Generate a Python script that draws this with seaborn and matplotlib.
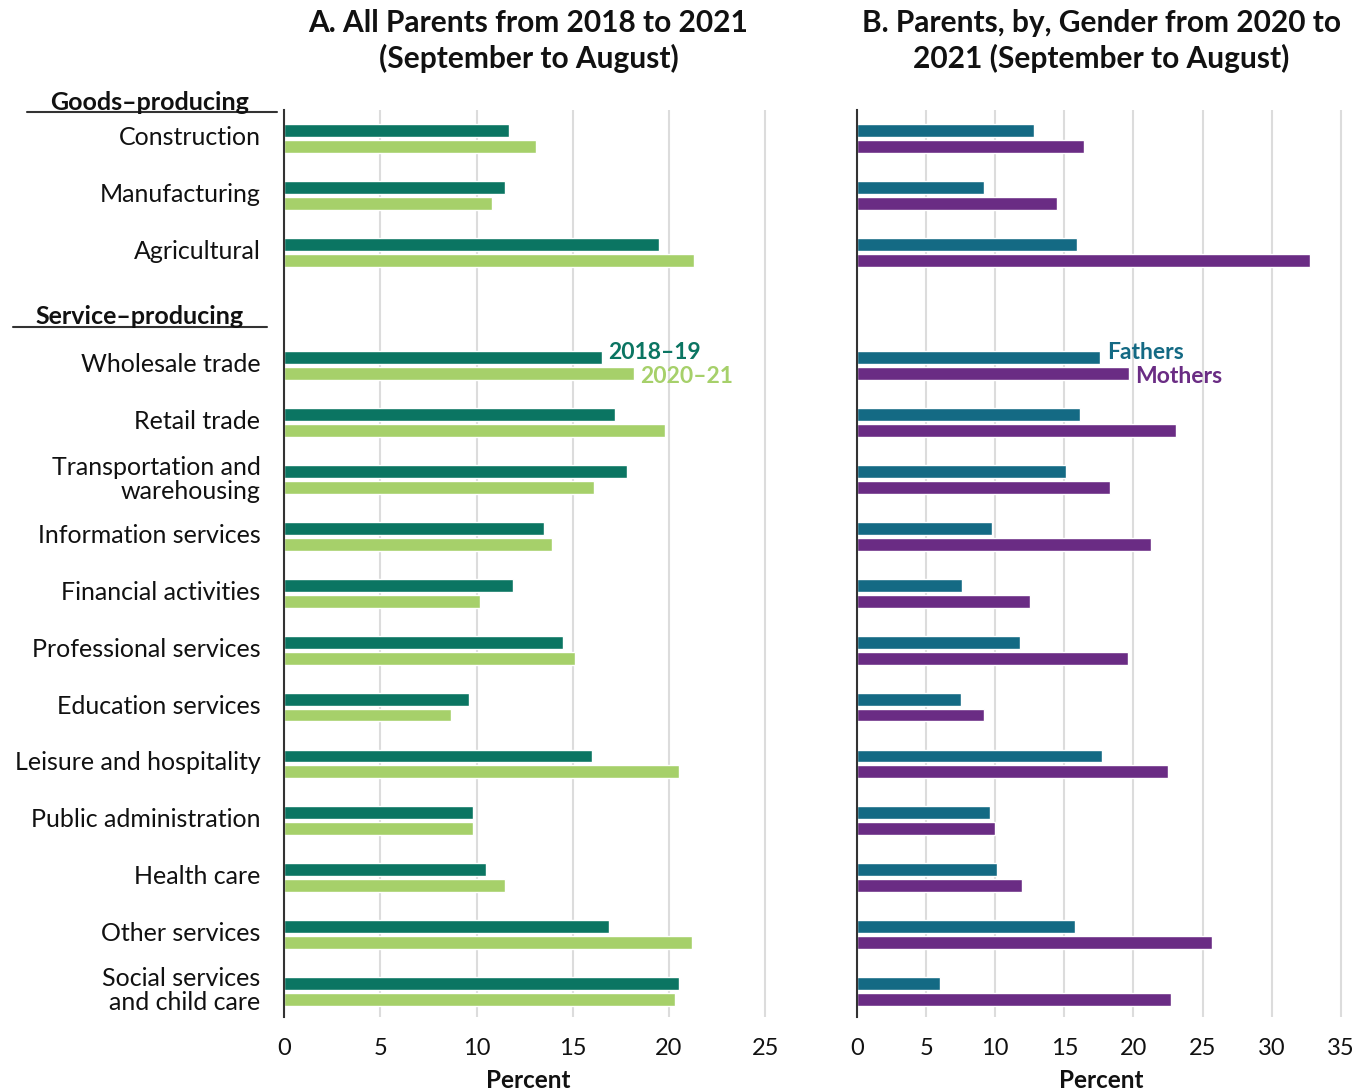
import matplotlib
matplotlib.use("Agg")
import matplotlib.pyplot as plt
import matplotlib.transforms as mtransforms
import seaborn as sns
import pandas as pd
from matplotlib.lines import Line2D

# ---- data (percent) ----
goods = ["Construction", "Manufacturing", "Agricultural"]
services = ["Wholesale trade", "Retail trade", "Transportation and\nwarehousing",
            "Information services", "Financial activities", "Professional services",
            "Education services", "Leisure and hospitality", "Public administration",
            "Health care", "Other services", "Social services\nand child care"]
categories = goods + services

all_2018_19 = [11.7, 11.5, 19.5, 16.5, 17.2, 17.8, 13.5, 11.9, 14.5,
               9.6, 16.0, 9.8, 10.5, 16.9, 20.5]
all_2020_21 = [13.1, 10.8, 21.3, 18.2, 19.8, 16.1, 13.9, 10.2, 15.1,
               8.7, 20.5, 9.8, 11.5, 21.2, 20.3]
fathers = [12.8, 9.2, 15.9, 17.6, 16.1, 15.1, 9.8, 7.6, 11.8,
           7.5, 17.7, 9.6, 10.1, 15.8, 6.0]
mothers = [16.4, 14.5, 32.8, 19.7, 23.1, 18.3, 21.3, 12.5, 19.6,
           9.2, 22.5, 10.0, 11.9, 25.7, 22.7]

years = ["2018\u201319", "2020\u201321"]
genders = ["Fathers", "Mothers"]

# blank slot between the two groups
order = goods + [""] + services

df_a = pd.DataFrame({
    "industry": categories * 2,
    "value": all_2018_19 + all_2020_21,
    "group": [years[0]] * len(categories) + [years[1]] * len(categories),
})
df_b = pd.DataFrame({
    "industry": categories * 2,
    "value": fathers + mothers,
    "group": [genders[0]] * len(categories) + [genders[1]] * len(categories),
})

green_dark, green_light = "#0b7562", "#a6d06a"
teal, purple = "#146a84", "#6a2c84"

sns.set_theme(style="white")
plt.rcParams["font.family"] = ["Lato", "DejaVu Sans"]

fig = plt.figure(figsize=(13.66, 10.92), dpi=100)
W, H = 1366, 1092
bottom, top = 1 - 1017 / H, 1 - 110 / H
ax_a = fig.add_axes([284 / W, bottom, 489 / W, top - bottom])
ax_b = fig.add_axes([857 / W, bottom, 488 / W, top - bottom])

sns.barplot(data=df_a, y="industry", x="value", hue="group", order=order,
            hue_order=years, palette=[green_dark, green_light], orient="h",
            width=0.56, gap=0.19, legend=False, ax=ax_a, saturation=1)
sns.barplot(data=df_b, y="industry", x="value", hue="group", order=order,
            hue_order=genders, palette=[teal, purple], orient="h",
            width=0.56, gap=0.19, legend=False, ax=ax_b, saturation=1)

for ax, xmax, ticks in [(ax_a, 25.4, range(0, 30, 5)), (ax_b, 35.3, range(0, 40, 5))]:
    ax.set_xlim(0, xmax)
    ax.set_ylim(15.45, -0.5)
    ax.set_xticks(list(ticks))
    ax.grid(axis="x", color="#dcdcdc", linewidth=1.5)
    ax.set_axisbelow(True)
    for s in ["top", "right", "bottom"]:
        ax.spines[s].set_visible(False)
    ax.spines["left"].set_color("#333333")
    ax.spines["left"].set_linewidth(1.5)
    ax.tick_params(axis="x", length=0, pad=15, labelsize=17, colors="#111111")
    ax.tick_params(axis="y", length=0)
    ax.set_xlabel("Percent", fontsize=17.5, fontweight="bold", color="#111111", labelpad=7)
    ax.set_ylabel("")

ax_a.tick_params(axis="y", pad=17, labelsize=18, colors="#111111")
ax_a.set_yticks(range(len(order)))
ax_a.set_yticklabels(order, linespacing=1.05)
# labels sit a little above the bar pair centre
shift = mtransforms.ScaledTranslation(0, 3 / 100, fig.dpi_scale_trans)
for lab in ax_a.get_yticklabels():
    lab.set_transform(lab.get_transform() + shift)
ax_b.set_yticks(range(len(order)))
ax_b.set_yticklabels([])

for ax, title in [(ax_a, "A. All Parents from 2018 to 2021\n(September to August)"),
                  (ax_b, "B. Parents, by, Gender from 2020 to\n2021 (September to August)")]:
    ax.set_title(title, fontsize=21.5, fontweight="bold", color="#111111",
                 pad=30, linespacing=1.3)

# inline legend labels next to the Wholesale trade bars
row = order.index("Wholesale trade")
i = categories.index("Wholesale trade")
for ax, vals, labs, cols in [(ax_a, (all_2018_19[i], all_2020_21[i]), years, (green_dark, green_light)),
                             (ax_b, (fathers[i], mothers[i]), genders, (teal, purple))]:
    ax.annotate(labs[0], xy=(vals[0], row - 0.14), xytext=(5, 4), textcoords="offset points",
                va="center", ha="left", fontsize=16.5, fontweight="bold", color=cols[0],
                annotation_clip=False)
    ax.annotate(labs[1], xy=(vals[1], row + 0.14), xytext=(4, -2), textcoords="offset points",
                va="center", ha="left", fontsize=16.5, fontweight="bold", color=cols[1],
                annotation_clip=False)

# group headers with rules
for label, y_txt, y_line, x0, x1, xc in [("Goods\u2013producing", 102, 112, 27, 277, 150),
                                          ("Service\u2013producing", 316, 327, 13, 267, 140)]:
    fig.text(xc / W, 1 - y_txt / H, label, ha="center", va="center",
             fontsize=18, fontweight="bold", color="#111111")
    fig.add_artist(Line2D([x0 / W, x1 / W], [1 - y_line / H] * 2,
                          transform=fig.transFigure, color="#333333", linewidth=1.5))

fig.savefig("out.png", dpi=100)
